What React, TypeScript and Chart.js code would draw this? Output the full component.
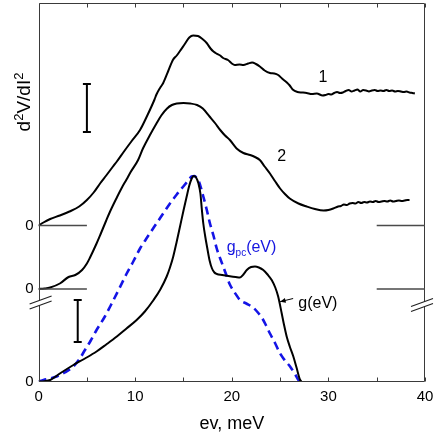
import React, { useEffect, useRef } from 'react';
import { Chart, registerables } from 'chart.js';

Chart.register(...registerables);

const FONT = "'Liberation Sans', Arial, Helvetica, sans-serif";

// x axis (meV)
const energyTicks = [0, 10, 20, 30, 40];
const frameTickEnergies = [0, 5, 10, 15, 20, 25, 30, 35, 40];
// zero levels of the stacked curves (arbitrary units)
const baselineLevels = [0, 92.5, 156];
const baselineSegments = [[0, 5], [35, 40]];

// curve 1 (top d2V/dI2)
const curve1Energy = [0, 0.5, 1.2, 2.2, 3.2, 4.2, 5.0, 5.7, 6.4, 7.0, 7.7, 8.1, 8.8, 9.6, 10.5, 11.3, 12.0, 12.2, 12.6, 12.9, 13.4, 13.9, 14.3, 14.6, 15.1, 15.6, 16.0, 16.5, 16.9, 17.4, 17.8, 18.1, 18.4, 18.8, 19.1, 19.6, 20.0, 20.3, 20.8, 21.2, 21.7, 22.1, 22.5, 22.9, 23.4, 23.95, 24.4, 24.8, 25.2, 25.7, 26.0, 26.3, 26.8, 27.3, 27.75, 28.3, 28.8, 29.4, 29.7, 30.0, 30.3, 30.6, 30.9, 31.2, 31.5, 31.8, 32.1, 32.4, 32.7, 33.0, 33.3, 33.6, 33.9, 34.2, 34.5, 34.8, 35.1, 35.4, 35.7, 36.0, 36.3, 36.6, 36.9, 37.2, 37.5, 37.8, 38.1, 38.4, 38.7, 38.95];
const curve1Signal = [156, 159, 162.5, 166, 170, 175, 181.5, 189, 198.5, 206, 215, 220, 229.5, 240, 251.5, 267, 282, 287, 294, 298.5, 310, 321.5, 326, 330, 337, 344, 346, 345.5, 343, 338.5, 333, 330, 328, 326, 323.5, 321.5, 318, 316.5, 317, 316.5, 318, 319, 317.5, 315, 311, 308.5, 308, 306.5, 303, 299, 296, 292, 289.5, 289, 288.5, 287.5, 288, 286, 286.5, 287.5, 287, 288.5, 289.5, 288.5, 289, 290.5, 291.5, 290, 291, 292, 290, 291.5, 291, 290, 291, 291.5, 290.5, 291, 290.5, 291.5, 290.5, 291, 290, 290.5, 290, 289.5, 290, 289, 288.5, 288];

// curve 2 (middle d2V/dI2)
const curve2Energy = [0, 0.6, 1.2, 2.2, 3.1, 3.8, 4.5, 5.0, 5.3, 6.0, 6.4, 7.0, 7.4, 8.1, 8.6, 9.1, 9.5, 10.3, 10.8, 11.5, 12.2, 12.7, 13.3, 13.8, 14.3, 15.0, 15.7, 16.4, 17.0, 17.7, 18.3, 18.8, 19.3, 19.8, 20.5, 21.2, 21.9, 22.4, 22.9, 23.4, 23.95, 24.5, 25.0, 25.5, 26.0, 26.9, 27.75, 28.6, 29.5, 30.0, 30.5, 31.0, 31.3, 31.6, 31.9, 32.2, 32.5, 32.8, 33.1, 33.4, 33.7, 34.0, 34.3, 34.6, 34.9, 35.2, 35.5, 35.8, 36.1, 36.4, 36.7, 37.0, 37.3, 37.6, 37.9, 38.2, 38.4];
const curve2Signal = [92.5, 93, 94, 98, 104.5, 106.5, 111.5, 118, 123.5, 138, 147, 161, 170, 184, 193.5, 202, 209, 221.5, 233, 246, 258, 266, 273, 276.5, 278, 278.5, 278, 276.5, 273, 265, 258, 251.5, 246, 241.5, 233, 228.5, 226.5, 224.5, 221.5, 215, 208, 200, 193, 187.5, 183, 178, 175, 172.5, 171, 171.5, 173, 175, 175.5, 177, 176.5, 178, 178.5, 178, 179.5, 178.5, 179.5, 179, 180, 179.5, 180.5, 179.5, 180, 180.5, 180, 181, 180, 180.5, 181, 180.5, 181, 181.5, 181.5];

// g(eV), solid
const gEnergy = [0, 0.6, 1.2, 2.2, 3.6, 4.8, 6.0, 7.0, 8.1, 9.1, 10.15, 11.0, 11.9, 12.6, 13.26, 13.6, 13.94, 14.3, 14.64, 15.0, 15.33, 15.6, 15.85, 16.05, 16.3, 16.55, 16.75, 16.9, 17.05, 17.25, 17.45, 17.7, 17.95, 18.2, 18.45, 19.0, 19.8, 20.4, 20.85, 21.2, 21.55, 22.0, 22.4, 22.8, 23.26, 23.7, 24.13, 24.5, 24.8, 25.17, 25.4, 25.68, 26.0, 26.37, 26.7, 27.05, 27.2];
const gValue = [0, 0.3, 1.5, 8, 16.5, 23, 30, 37, 45, 53, 61.5, 70, 81.5, 92, 105, 114, 125, 140, 155, 171, 185, 196, 203, 205.5, 204, 198, 188, 172, 158, 145, 134, 121, 113, 109, 107.5, 106.5, 105.3, 104.5, 104, 107, 111.5, 114.5, 115, 114, 111.5, 107, 101.5, 94, 85, 68, 57, 45, 35, 25, 14, 2, 0];

// g_pc(eV), dashed blue
const gpcEnergy = [0, 0.5, 1.2, 1.87, 2.7, 3.6, 4.2, 4.8, 5.4, 6.0, 6.8, 7.57, 8.3, 9.12, 9.8, 10.5, 11.3, 12.2, 12.9, 13.6, 14.3, 14.98, 15.5, 15.85, 16.15, 16.4, 16.6, 17.05, 17.4, 17.74, 18.1, 18.44, 18.8, 19.3, 19.8, 20.3, 20.85, 21.5, 22.2, 22.7, 23.1, 23.5, 23.95, 24.5, 25.0, 25.5, 26.03, 26.5, 26.9, 27.0];
const gpcValue = [0, 1.5, 3, 5, 9, 15, 22, 31.5, 41, 51.5, 64, 78, 92, 108, 120, 133, 145, 158, 168, 178, 187, 195, 201, 205, 205.5, 203, 200, 185, 172, 158, 146, 133, 123, 110, 97, 89, 81.5, 78, 74, 69, 64, 57, 48, 38, 28, 21, 15, 8, 1.5, 0];

// scale bars [energy, low, high]
const scaleBars = [[5.0, 249.5, 297.5], [4.05, 39.5, 81.5]];
const breakLevel = 77.5;

const zip = (xs: number[], ys: number[]) => xs.map((x, i) => ({ x, y: ys[i] }));

// draws a run of [text, fontSize, baselineShift] pieces starting at x
function drawRich(ctx: CanvasRenderingContext2D, parts: [string, number, number][], x: number, y: number) {
  let cx = x;
  parts.forEach(([t, size, dy]) => {
    ctx.font = `${size}px ${FONT}`;
    ctx.fillText(t, cx, y + dy);
    cx += ctx.measureText(t).width;
  });
  return cx - x;
}
function measureRich(ctx: CanvasRenderingContext2D, parts: [string, number, number][]) {
  let w = 0;
  parts.forEach(([t, size]) => {
    ctx.font = `${size}px ${FONT}`;
    w += ctx.measureText(t).width;
  });
  return w;
}

const decorations = {
  id: 'decorations',
  afterDraw(chart: any) {
    const { ctx, chartArea: a, scales } = chart;
    const xs = scales.x;
    const ys = scales.y;
    const px = (v: number) => xs.getPixelForValue(v);
    const py = (v: number) => ys.getPixelForValue(v);
    ctx.save();

    // frame
    ctx.strokeStyle = '#3a3a3a';
    ctx.lineWidth = 1;
    const L = Math.round(a.left) + 0.5;
    const R = Math.round(a.right) - 0.5;
    const T = Math.round(a.top) + 0.5;
    const B = Math.round(a.bottom) - 0.5;
    ctx.beginPath();
    ctx.moveTo(L, T); ctx.lineTo(R, T); ctx.lineTo(R, B); ctx.lineTo(L, B); ctx.closePath();
    ctx.stroke();

    // inward ticks
    ctx.beginPath();
    frameTickEnergies.forEach((e) => {
      const x = Math.round(px(e)) + 0.5;
      ctx.moveTo(x, B); ctx.lineTo(x, B - 4);
      ctx.moveTo(x, T); ctx.lineTo(x, T + 4);
    });
    ctx.stroke();

    // baselines of the stacked curves
    ctx.strokeStyle = '#4a4a4a';
    ctx.lineWidth = 1.5;
    ctx.beginPath();
    baselineLevels.slice(1).forEach((lvl) => {
      baselineSegments.forEach(([e0, e1]) => {
        ctx.moveTo(px(e0), py(lvl));
        ctx.lineTo(px(e1), py(lvl));
      });
    });
    ctx.stroke();

    // axis breaks
    ctx.strokeStyle = '#222';
    ctx.lineWidth = 1.2;
    const yb = py(breakLevel);
    [a.left + 2, a.right - 3].forEach((xc, k) => {
      const yc = yb + (k === 0 ? -1.5 : 1);
      ctx.fillStyle = '#fff';
      ctx.beginPath();
      ctx.moveTo(xc - 11, yc + 1.5); ctx.lineTo(xc + 11, yc - 6.5);
      ctx.lineTo(xc + 11, yc - 1.5); ctx.lineTo(xc - 11, yc + 6.5);
      ctx.closePath();
      ctx.fill();
      ctx.beginPath();
      ctx.moveTo(xc - 11, yc + 1.5); ctx.lineTo(xc + 11, yc - 6.5);
      ctx.moveTo(xc - 11, yc + 6.5); ctx.lineTo(xc + 11, yc - 1.5);
      ctx.stroke();
    });

    // scale bars
    ctx.strokeStyle = '#000';
    ctx.lineWidth = 2;
    ctx.beginPath();
    scaleBars.forEach(([e, lo, hi]) => {
      const x = px(e);
      ctx.moveTo(x, py(lo)); ctx.lineTo(x, py(hi));
      ctx.moveTo(x - 4, py(lo)); ctx.lineTo(x + 4, py(lo));
      ctx.moveTo(x - 4, py(hi)); ctx.lineTo(x + 4, py(hi));
    });
    ctx.stroke();

    // curve labels
    ctx.fillStyle = '#000';
    ctx.font = `16px ${FONT}`;
    ctx.textAlign = 'center';
    ctx.textBaseline = 'middle';
    ctx.fillText('1', px(29.44), py(303.5));
    ctx.fillText('2', px(25.17), py(224.8));

    // g_pc(eV)
    ctx.textAlign = 'left';
    ctx.textBaseline = 'alphabetic';
    ctx.fillStyle = '#1414e0';
    drawRich(ctx, [['g', 16, 0], ['pc', 10, 4], ['(eV)', 16, 0]], px(19.47), py(135.5) + 6);

    // g(eV) with arrow
    ctx.fillStyle = '#000';
    ctx.font = `16px ${FONT}`;
    ctx.fillText('g(eV)', px(26.88), py(79.8) + 6);
    const ax0 = px(26.35), ay0 = py(83);
    const ax1 = px(25.0), ay1 = py(79.8);
    ctx.strokeStyle = '#000';
    ctx.lineWidth = 1;
    ctx.beginPath();
    ctx.moveTo(ax0, ay0); ctx.lineTo(ax1, ay1);
    ctx.stroke();
    const ang = Math.atan2(ay1 - ay0, ax1 - ax0);
    ctx.beginPath();
    ctx.moveTo(ax1, ay1);
    ctx.lineTo(ax1 - 6 * Math.cos(ang - 0.4), ay1 - 6 * Math.sin(ang - 0.4));
    ctx.lineTo(ax1 - 6 * Math.cos(ang + 0.4), ay1 - 6 * Math.sin(ang + 0.4));
    ctx.closePath();
    ctx.fill();

    // axis titles
    ctx.font = `18px ${FONT}`;
    ctx.textAlign = 'center';
    ctx.fillText('ev, meV', (a.left + a.right) / 2, 429);

    ctx.save();
    ctx.translate(30, py(279.5));
    ctx.rotate(-Math.PI / 2);
    ctx.textAlign = 'left';
    const yParts: [string, number, number][] = [['d', 19, 0], ['2', 13, -7], ['V/dI', 19, 0], ['2', 13, -7]];
    const w = measureRich(ctx, yParts);
    drawRich(ctx, yParts, -w / 2, 0);
    ctx.restore();

    ctx.restore();
  },
};

export default function App() {
  const ref = useRef<HTMLCanvasElement | null>(null);
  useEffect(() => {
    if (!ref.current) return;
    const lineBase = { pointRadius: 0, fill: false, cubicInterpolationMode: 'monotone' as const };
    const chart = new Chart(ref.current, {
      type: 'line',
      data: {
        datasets: [
          { ...lineBase, label: 'g(eV)', data: zip(gEnergy, gValue), borderColor: '#000', borderWidth: 2 },
          { ...lineBase, label: 'g_pc(eV)', data: zip(gpcEnergy, gpcValue), borderColor: '#1414e6', borderWidth: 2.6, borderDash: [8, 5] },
          { ...lineBase, label: '1', data: zip(curve1Energy, curve1Signal), borderColor: '#000', borderWidth: 2 },
          { ...lineBase, label: '2', data: zip(curve2Energy, curve2Signal), borderColor: '#000', borderWidth: 2 },
        ],
      },
      options: {
        animation: false,
        responsive: false,
        devicePixelRatio: 1,
        layout: { padding: { top: 3, right: 11, left: 0, bottom: 0 } },
        plugins: { legend: { display: false }, tooltip: { enabled: false } },
        scales: {
          x: {
            type: 'linear',
            min: 0,
            max: 40,
            grid: { display: false, drawTicks: false },
            border: { display: false },
            afterBuildTicks: (s: any) => { s.ticks = energyTicks.map((v) => ({ value: v })); },
            afterFit: (s: any) => { s.height = 50.5; s.paddingLeft = 0; s.paddingRight = 0; },
            ticks: { color: '#000', font: { size: 15, family: FONT }, padding: 6, autoSkip: false, maxRotation: 0 },
          },
          y: {
            type: 'linear',
            min: 0,
            max: 378.5,
            grid: { display: false, drawTicks: false },
            border: { display: false },
            afterBuildTicks: (s: any) => { s.ticks = baselineLevels.map((v) => ({ value: v })); },
            afterFit: (s: any) => { s.width = 38.6; s.paddingTop = 0; s.paddingBottom = 0; },
            ticks: { color: '#000', font: { size: 15, family: FONT }, padding: 5, callback: () => '0' },
          },
        },
      },
      plugins: [decorations],
    });
    return () => chart.destroy();
  }, []);
  return (
    <div style={{ position: 'absolute', left: 0, top: 0, width: 436, height: 432, background: '#fff' }}>
      <canvas ref={ref} width={436} height={432} />
    </div>
  );
}
